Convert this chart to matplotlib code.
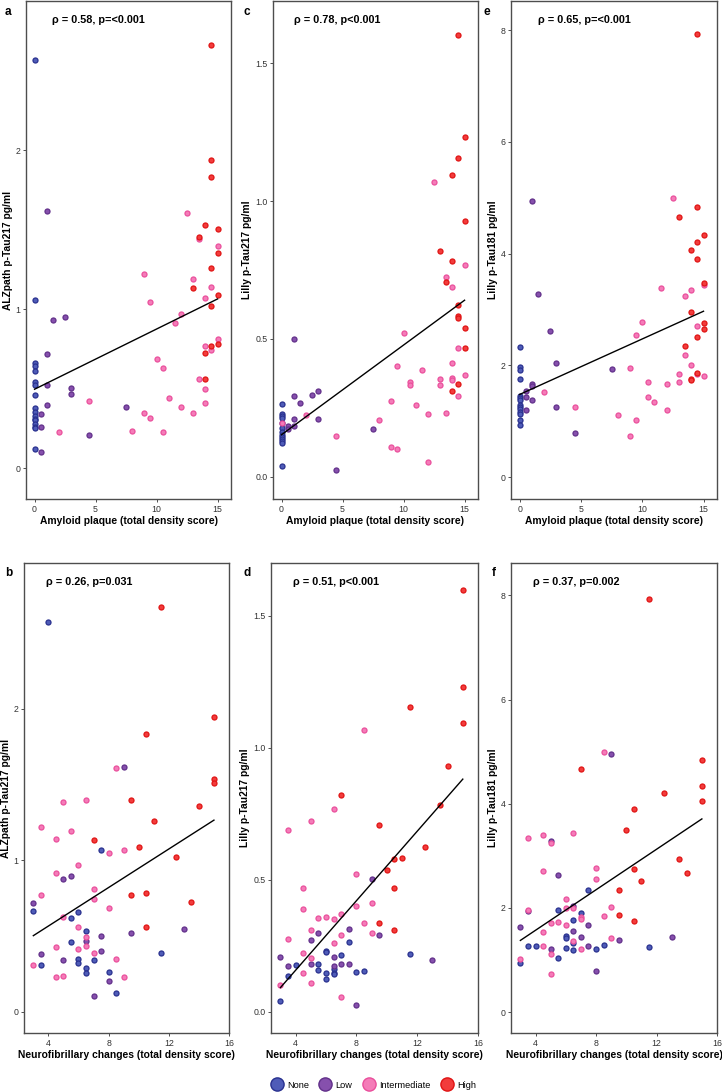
import matplotlib
matplotlib.use("Agg")
import matplotlib.pyplot as plt
from matplotlib.lines import Line2D
import numpy as np

plt.rcParams["font.family"] = ["Liberation Sans", "DejaVu Sans"]

groups = ["None", "Low", "Intermediate", "High"]
face_colors = ["#4f5cb8", "#8650ad", "#f47cb8", "#f23c3c"]
edge_colors = ["#29318f", "#62308a", "#ea4f9c", "#e01414"]

# ---- panel a: amyloid vs ALZpath p-Tau217 ----
a_none_x = [0] * 17
a_none_y = [2.57, 1.06, 0.66, 0.64, 0.61, 0.54, 0.52, 0.46, 0.38, 0.35, 0.33, 0.31, 0.30, 0.28, 0.26, 0.25, 0.12]
a_low_x = [1, 1.5, 2.5, 1, 1, 3, 3, 1, 0.5, 0.5, 0.5, 4.5, 7.5]
a_low_y = [1.615, 0.93, 0.953, 0.718, 0.524, 0.503, 0.465, 0.398, 0.339, 0.258, 0.103, 0.205, 0.383]
a_int_x = [12.5, 9, 9.5, 13, 12, 11.5, 10, 10.5, 14, 14.5, 13.5, 15, 15, 14.5, 14, 13.5, 14, 14,
           11, 12, 13, 9, 9.5, 4.5, 2, 8, 10.5]
a_int_y = [1.606, 1.221, 1.045, 1.187, 0.972, 0.915, 0.685, 0.628, 1.068, 1.137, 1.443, 1.399, 0.813,
           0.743, 0.771, 0.559, 0.496, 0.41, 0.44, 0.385, 0.346, 0.346, 0.312, 0.425, 0.228, 0.235, 0.224]
a_high_x = [14.5, 14.5, 14.5, 14, 15, 13.5, 15, 14.5, 13, 15, 14.5, 14.5, 15, 14, 14]
a_high_y = [2.666, 1.939, 1.83, 1.531, 1.506, 1.453, 1.355, 1.257, 1.135, 1.089, 1.022, 0.769, 0.783, 0.722, 0.559]

# ---- panel c: amyloid vs Lilly p-Tau217 ----
c_none_x = [0] * 13
c_none_y = [0.263, 0.228, 0.22, 0.214, 0.195, 0.178, 0.163, 0.153, 0.145, 0.137, 0.13, 0.122, 0.04]
c_low_x = [1, 1, 1.5, 2.5, 3, 1, 3, 0.5, 0.5, 1, 7.5, 4.5]
c_low_y = [0.50, 0.292, 0.269, 0.298, 0.31, 0.209, 0.209, 0.184, 0.175, 0.184, 0.174, 0.025]
c_int_x = [12.5, 10, 9.5, 11.5, 10.5, 10.5, 9, 11, 12, 2, 8, 4.5, 9, 9.5, 12, 13.5, 14, 15,
           14.5, 15, 14, 14, 14, 13, 13, 14.5, 13.5, 0]
c_int_y = [1.07, 0.523, 0.402, 0.389, 0.344, 0.333, 0.277, 0.261, 0.229, 0.225, 0.205, 0.147, 0.109,
           0.103, 0.055, 0.724, 0.69, 0.767, 0.466, 0.369, 0.412, 0.358, 0.353, 0.355, 0.335, 0.293,
           0.232, 0.195]
c_high_x = [14.5, 15, 14.5, 14, 15, 13, 14, 13.5, 14.5, 14.5, 14.5, 15, 15, 14.5, 14]
c_high_y = [1.60, 1.231, 1.156, 1.093, 0.929, 0.818, 0.783, 0.705, 0.623, 0.582, 0.577, 0.54, 0.466, 0.336, 0.31]

# ---- panel e: amyloid vs Lilly p-Tau181 ----
e_none_x = [0] * 14
e_none_y = [2.33, 1.98, 1.92, 1.76, 1.45, 1.42, 1.38, 1.30, 1.26, 1.22, 1.16, 1.13, 1.03, 0.94]
e_low_x = [1, 1.5, 2.5, 3, 7.5, 1, 1, 0.5, 0.5, 1, 0.5, 3, 4.5]
e_low_y = [4.94, 3.28, 2.62, 2.04, 1.93, 1.67, 1.63, 1.54, 1.44, 1.38, 1.21, 1.26, 0.79]
e_int_x = [12.5, 11.5, 14, 13.5, 15, 10, 9.5, 14.5, 13.5, 14, 9, 13, 14.5, 15, 13, 10.5, 12, 2,
           10.5, 11, 4.5, 12, 8, 9.5, 9]
e_int_y = [4.99, 3.39, 3.35, 3.24, 3.44, 2.77, 2.55, 2.71, 2.18, 2.0, 1.96, 1.85, 1.84, 1.81, 1.71,
           1.70, 1.67, 1.53, 1.44, 1.35, 1.26, 1.21, 1.12, 1.02, 0.73]
e_high_x = [14.5, 14.5, 13, 15, 14.5, 14, 14.5, 15, 14, 15, 15, 14.5, 13.5, 14.5, 14, 14]
e_high_y = [7.93, 4.84, 4.65, 4.33, 4.2, 4.06, 3.9, 3.48, 2.95, 2.75, 2.65, 2.5, 2.35, 1.86, 1.75, 1.74]

# ---- panel b: neurofibrillary vs ALZpath p-Tau217 ----
b_none_x = [4, 3, 7.5, 6, 5.5, 6.5, 5.5, 6, 6, 7, 3.5, 6.5, 6.5, 8, 8.5, 11.5]
b_none_y = [2.57, 0.667, 1.066, 0.66, 0.617, 0.533, 0.46, 0.348, 0.324, 0.341, 0.31, 0.286, 0.253, 0.262, 0.121, 0.385]
b_low_x = [9, 5, 5.5, 3, 7.5, 9.5, 13, 6.5, 7.5, 3.5, 5, 8, 7]
b_low_y = [1.615, 0.874, 0.894, 0.72, 0.502, 0.522, 0.544, 0.467, 0.399, 0.383, 0.344, 0.205, 0.104]
b_int_x = [8.5, 5, 6.5, 3.5, 5.5, 4.5, 4.5, 6, 8, 9, 3.5, 7, 7, 8, 5, 6, 6.5, 6.5, 4.5, 6, 7, 8.5,
           3, 4.5, 5, 9]
b_int_y = [1.608, 1.383, 1.40, 1.222, 1.19, 1.141, 0.918, 0.971, 1.046, 1.068, 0.773, 0.813, 0.744,
           0.685, 0.628, 0.562, 0.496, 0.436, 0.425, 0.412, 0.385, 0.346, 0.31, 0.227, 0.236, 0.227]
b_high_x = [11.5, 15, 10.5, 15, 15, 14, 9.5, 11, 7, 10, 12.5, 9.5, 10.5, 13.5, 10.5]
b_high_y = [2.667, 1.943, 1.833, 1.533, 1.507, 1.357, 1.394, 1.258, 1.134, 1.09, 1.022, 0.769, 0.784, 0.725, 0.562]

# ---- panel d: neurofibrillary vs Lilly p-Tau217 ----
d_none_x = [3, 3.5, 4, 5.5, 5.5, 6, 6, 6, 6, 6.5, 6.5, 6.5, 7, 7.5, 8, 8.5, 11.5]
d_none_y = [0.04, 0.134, 0.178, 0.182, 0.157, 0.23, 0.225, 0.148, 0.125, 0.161, 0.148, 0.142, 0.215,
            0.263, 0.152, 0.154, 0.221]
d_low_x = [3, 3.5, 5, 5, 5.5, 6.5, 6.5, 7, 7.5, 7.5, 8, 9, 9.5, 13]
d_low_y = [0.209, 0.175, 0.272, 0.182, 0.297, 0.209, 0.175, 0.183, 0.312, 0.183, 0.025, 0.502, 0.292, 0.197]
d_int_x = [8.5, 6.5, 5, 3.5, 4.5, 4.5, 8, 8, 9, 7, 5.5, 6, 6.5, 8.5, 5, 9, 7, 3.5, 6.5, 4.5, 5, 4.5,
           5, 3, 7]
d_int_y = [1.069, 0.768, 0.724, 0.689, 0.468, 0.39, 0.524, 0.402, 0.414, 0.371, 0.357, 0.358, 0.353,
           0.337, 0.309, 0.3, 0.293, 0.277, 0.262, 0.224, 0.204, 0.147, 0.109, 0.102, 0.057]
d_high_x = [15, 15, 11.5, 15, 14, 7, 13.5, 9.5, 12.5, 10.5, 11, 10, 10.5, 9.5, 10.5]
d_high_y = [1.599, 1.232, 1.156, 1.094, 0.93, 0.82, 0.783, 0.706, 0.624, 0.579, 0.584, 0.539, 0.468, 0.335, 0.311]

# ---- panel f: neurofibrillary vs Lilly p-Tau181 ----
f_none_x = [3, 3.5, 4, 5.5, 5.5, 6, 6, 6, 6.5, 6.5, 6.5, 7, 7.5, 8, 8.5, 11.5]
f_none_y = [0.948, 1.262, 1.262, 1.044, 1.967, 1.467, 1.43, 1.236, 1.762, 1.332, 1.198, 1.909, 2.338,
            1.204, 1.288, 1.249]
f_low_x = [3, 3.5, 5, 5, 5.5, 6.5, 6.5, 7, 7.5, 7.5, 8, 9, 9.5, 13]
f_low_y = [1.633, 1.935, 3.28, 1.217, 2.627, 2.044, 1.55, 1.448, 1.672, 1.268, 0.794, 4.945, 1.384, 1.448]
f_int_x = [8.5, 6.5, 4.5, 3.5, 5, 4.5, 8, 8, 6, 6, 6.5, 9, 3.5, 7, 7, 8.5, 5, 5.5, 6, 4.5, 9, 4.5,
           7, 6.5, 5, 3, 5]
f_int_y = [4.997, 3.447, 3.395, 3.35, 3.24, 2.70, 2.767, 2.556, 2.178, 2.0, 2.0, 2.01, 1.967, 1.819,
           1.794, 1.851, 1.71, 1.723, 1.672, 1.531, 1.429, 1.262, 1.211, 1.358, 1.121, 1.025, 0.73]
f_high_x = [11.5, 15, 7, 12.5, 15, 15, 10.5, 10, 13.5, 10.5, 14, 11, 9.5, 9.5, 10.5]
f_high_y = [7.93, 4.843, 4.657, 4.209, 4.331, 4.061, 3.90, 3.49, 2.94, 2.748, 2.665, 2.511, 2.351, 1.871, 1.755]

# linear fit (intercept, slope)
fit_a = (0.496, 0.0379)
fit_c = (0.153, 0.0325)
fit_e = (1.48, 0.0993)
fit_b = (0.3115, 0.0635)
fit_d = (-0.1055, 0.0658)
fit_f = (0.794, 0.1943)

stats_a = "ρ = 0.58, p=<0.001"
stats_c = "ρ = 0.78, p<0.001"
stats_e = "ρ = 0.65, p=<0.001"
stats_b = "ρ = 0.26, p=0.031"
stats_d = "ρ = 0.51, p<0.001"
stats_f = "ρ = 0.37, p=0.002"

ylab_a = "ALZpath p-Tau217 pg/ml"
ylab_c = "Lilly p-Tau217 pg/ml"
ylab_e = "Lilly p-Tau181 pg/ml"
xlab_top = "Amyloid plaque (total density score)"
xlab_bot = "Neurofibrillary changes (total density score)"

W, H = 722, 1092
fig = plt.figure(figsize=(W / 100, H / 100), dpi=100)


def px_axes(x0, y0, x1, y1):
    return fig.add_axes([x0 / W, 1 - y1 / H, (x1 - x0) / W, (y1 - y0) / H])


panels = [
    # letter, box(px), series, fit, stats, ylabel, xlabel, xlim, ylim, xticks, yticks, yfmt, text x (axes frac), letter pos
    ("a", (26, 1, 231, 499), [(a_none_x, a_none_y), (a_low_x, a_low_y), (a_int_x, a_int_y), (a_high_x, a_high_y)],
     fit_a, stats_a, ylab_a, xlab_top, (-0.7, 16.1), (-0.195, 2.94), [0, 5, 10, 15], [0, 1, 2], "%d", 0.125, (5, 12)),
    ("c", (273, 1, 478, 499), [(c_none_x, c_none_y), (c_low_x, c_low_y), (c_int_x, c_int_y), (c_high_x, c_high_y)],
     fit_c, stats_c, ylab_c, xlab_top, (-0.7, 16.1), (-0.08, 1.725), [0, 5, 10, 15], [0.0, 0.5, 1.0, 1.5], "%.1f", 0.1, (243, 12)),
    ("e", (511, 1, 717, 499), [(e_none_x, e_none_y), (e_low_x, e_low_y), (e_int_x, e_int_y), (e_high_x, e_high_y)],
     fit_e, stats_e, ylab_e, xlab_top, (-0.7, 16.1), (-0.39, 8.52), [0, 5, 10, 15], [0, 2, 4, 6, 8], "%d", 0.132, (484, 12)),
    ("b", (24, 563, 229, 1033), [(b_none_x, b_none_y), (b_low_x, b_low_y), (b_int_x, b_int_y), (b_high_x, b_high_y)],
     fit_b, stats_b, ylab_a, xlab_bot, (2.38, 16.0), (-0.14, 2.96), [4, 8, 12, 16], [0, 1, 2], "%d", 0.105, (5, 573)),
    ("d", (271, 563, 478, 1033), [(d_none_x, d_none_y), (d_low_x, d_low_y), (d_int_x, d_int_y), (d_high_x, d_high_y)],
     fit_d, stats_d, ylab_c, xlab_bot, (2.38, 16.0), (-0.08, 1.70), [4, 8, 12, 16], [0.0, 0.5, 1.0, 1.5], "%.1f", 0.105, (243, 573)),
    ("f", (511, 563, 717, 1033), [(f_none_x, f_none_y), (f_low_x, f_low_y), (f_int_x, f_int_y), (f_high_x, f_high_y)],
     fit_f, stats_f, ylab_e, xlab_bot, (2.38, 16.0), (-0.40, 8.62), [4, 8, 12, 16], [0, 2, 4, 6, 8], "%d", 0.105, (492, 573)),
]

spine_col = "#4d4d4d"
for (letter, box, series, fit, stats, ylab, xlab, xlim, ylim, xticks, yticks, yfmt,
     tx, lpos) in panels:
    ax = px_axes(*box)
    for (xs, ys), fc, ec in zip(series, face_colors, edge_colors):
        ax.scatter(xs, ys, s=13, facecolor=fc, edgecolor=ec, linewidths=0.9, zorder=3)
    allx = np.concatenate([np.asarray(s[0], float) for s in series])
    xx = np.array([allx.min(), allx.max()])
    ax.plot(xx, fit[0] + fit[1] * xx, color="black", lw=1.0, zorder=4)
    ax.set_xlim(*xlim)
    ax.set_ylim(*ylim)
    ax.set_xticks(xticks)
    ax.set_yticks(yticks)
    ax.set_yticklabels([yfmt % v for v in yticks])
    ax.tick_params(axis="both", direction="out", length=2.5, width=0.6, color="#333333",
                   labelsize=6.3, labelcolor="#333333", pad=1.5)
    for sp in ax.spines.values():
        sp.set_color(spine_col)
        sp.set_linewidth(1.0)
    ax.set_xlabel(xlab, fontsize=7.4, fontweight="bold", labelpad=1.5)
    ax.set_ylabel(ylab, fontsize=7.4, fontweight="bold", labelpad=2)
    ax.text(tx, 1 - 19 / (box[3] - box[1]), stats, transform=ax.transAxes, ha="left", va="center",
            fontsize=7.8, fontweight="bold")
    fig.text(lpos[0] / W, 1 - lpos[1] / H, letter, ha="left", va="center", fontsize=8.5, fontweight="bold")

handles = [Line2D([], [], linestyle="none", marker="o", markersize=9.5, markerfacecolor=fc,
                  markeredgecolor=ec, markeredgewidth=1.0) for fc, ec in zip(face_colors, edge_colors)]
fig.legend(handles, groups, loc="center", bbox_to_anchor=(374 / W, 1 - 1085 / H), ncol=4, frameon=False,
           fontsize=6.6, handletextpad=0.6, columnspacing=1.3, handlelength=1.0)

fig.savefig("out.png", dpi=100)
